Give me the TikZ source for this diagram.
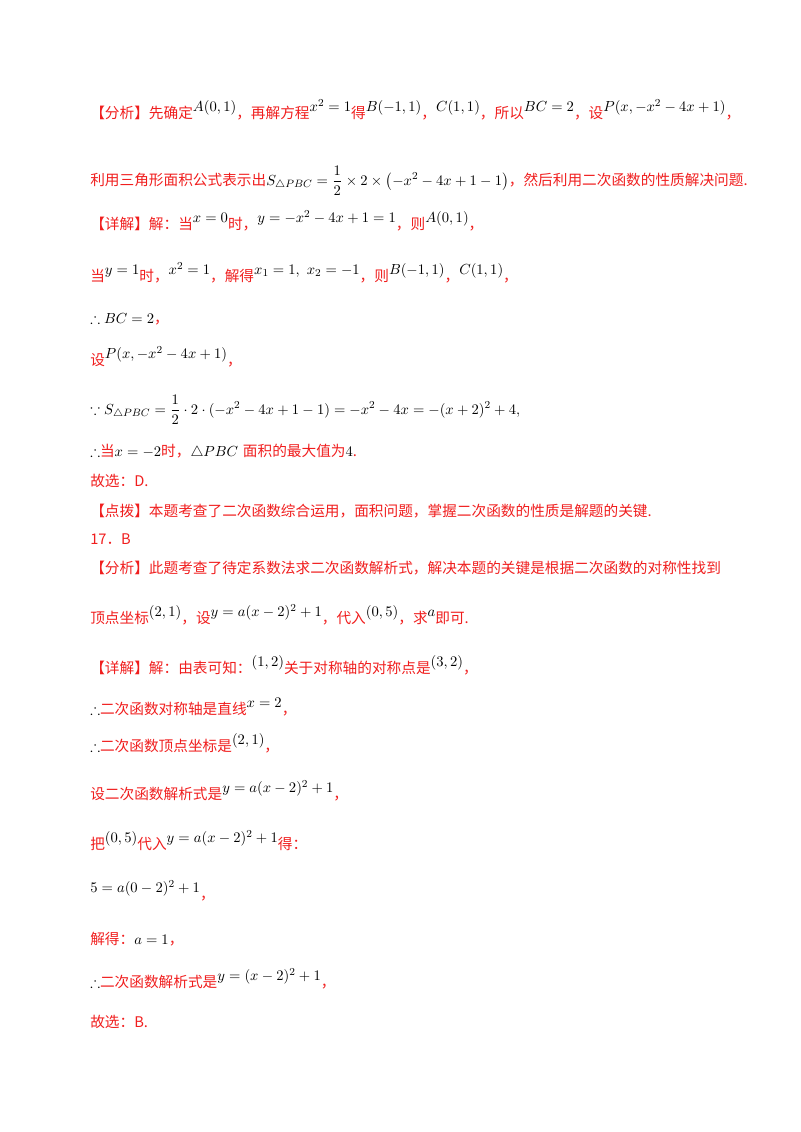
\documentclass[tikz,border=0pt]{standalone}
\usepackage{amsmath,amssymb}
\usepackage{fontspec}
\newfontfamily\cjk{Noto Sans CJK SC}
\definecolor{rd}{RGB}{240,30,30}
\newcommand{\R}[1]{{\color{rd}\cjk #1}}
\newcommand{\M}[1]{\raisebox{5pt}{$#1$}}
\begin{document}
\begin{tikzpicture}[x=0.75pt,y=-0.75pt,line/.style={anchor=base west,inner sep=0pt,font=\fontsize{11}{13}\selectfont}]
\useasboundingbox (0,0) rectangle (800,1132);
\node[line] (l1) at (90,118) {\R{【分析】先确定}\M{A(0,1)}\R{，再解方程}\M{x^2=1}\R{得}\M{B(-1,1)}\R{，}\M{C(1,1)}\R{，所以}\M{BC=2}\R{，设}\M{P(x,-x^2-4x+1)}\R{，}};
\node[line] (l2) at (90,185) {\R{利用三角形面积公式表示出}$S_{\triangle PBC}=\dfrac12\times2\times\left(-x^2-4x+1-1\right)$\R{，然后利用二次函数的性质解决问题.}};
\node[line] (l3) at (90,229) {\R{【详解】解：当}\M{x=0}\R{时，}\M{y=-x^2-4x+1=1}\R{，则}\M{A(0,1)}\R{，}};
\node[line] (l4) at (90,281) {\R{当}\M{y=1}\R{时，}\M{x^2=1}\R{，解得}\M{x_1=1,\ x_2=-1}\R{，则}\M{B(-1,1)}\R{，}\M{C(1,1)}\R{，}};
\node[line] (l5) at (90,323) {$\therefore BC=2$\R{，}};
\node[line] (l6) at (90,365) {\R{设}\M{P(x,-x^2-4x+1)}\R{，}};
\node[line] (l7) at (90,414) {$\because S_{\triangle PBC}=\dfrac12\cdot2\cdot(-x^2-4x+1-1)=-x^2-4x=-(x+2)^2+4,$};
\node[line] (l8) at (90,456) {$\therefore$\R{当}$x=-2$\R{时，}$\triangle PBC$ \R{面积的最大值为}$4$\R{.}};
\node[line] (l9) at (90,486) {\R{故选：D.}};
\node[line] (l10) at (90,516) {\R{【点拨】本题考查了二次函数综合运用，面积问题，掌握二次函数的性质是解题的关键.}};
\node[line] (l11) at (90,544) {\R{17．B}};
\node[line] (l12) at (90,573) {\R{【分析】此题考查了待定系数法求二次函数解析式，解决本题的关键是根据二次函数的对称性找到}};
\node[line] (l13) at (90,623) {\R{顶点坐标}\M{(2,1)}\R{，设}\M{y=a(x-2)^2+1}\R{，代入}\M{(0,5)}\R{，求}\M{a}\R{即可.}};
\node[line] (l14) at (90,673) {\R{【详解】解：由表可知：}\M{(1,2)}\R{关于对称轴的对称点是}\M{(3,2)}\R{，}};
\node[line] (l15) at (90,714) {$\therefore$\R{二次函数对称轴是直线}\M{x=2}\R{，}};
\node[line] (l16) at (90,751) {$\therefore$\R{二次函数顶点坐标是}\M{(2,1)}\R{，}};
\node[line] (l17) at (90,799) {\R{设二次函数解析式是}\M{y=a(x-2)^2+1}\R{，}};
\node[line] (l18) at (90,849) {\R{把}\M{(0,5)}\R{代入}\M{y=a(x-2)^2+1}\R{得：}};
\node[line] (l19) at (90,899) {\M{5=a(0-2)^2+1}\R{，}};
\node[line] (l20) at (90,944) {\R{解得：}$a=1$\R{，}};
\node[line] (l21) at (90,987) {$\therefore$\R{二次函数解析式是}\M{y=(x-2)^2+1}\R{，}};
\node[line] (l22) at (90,1027) {\R{故选：B.}};
\end{tikzpicture}
\end{document}
